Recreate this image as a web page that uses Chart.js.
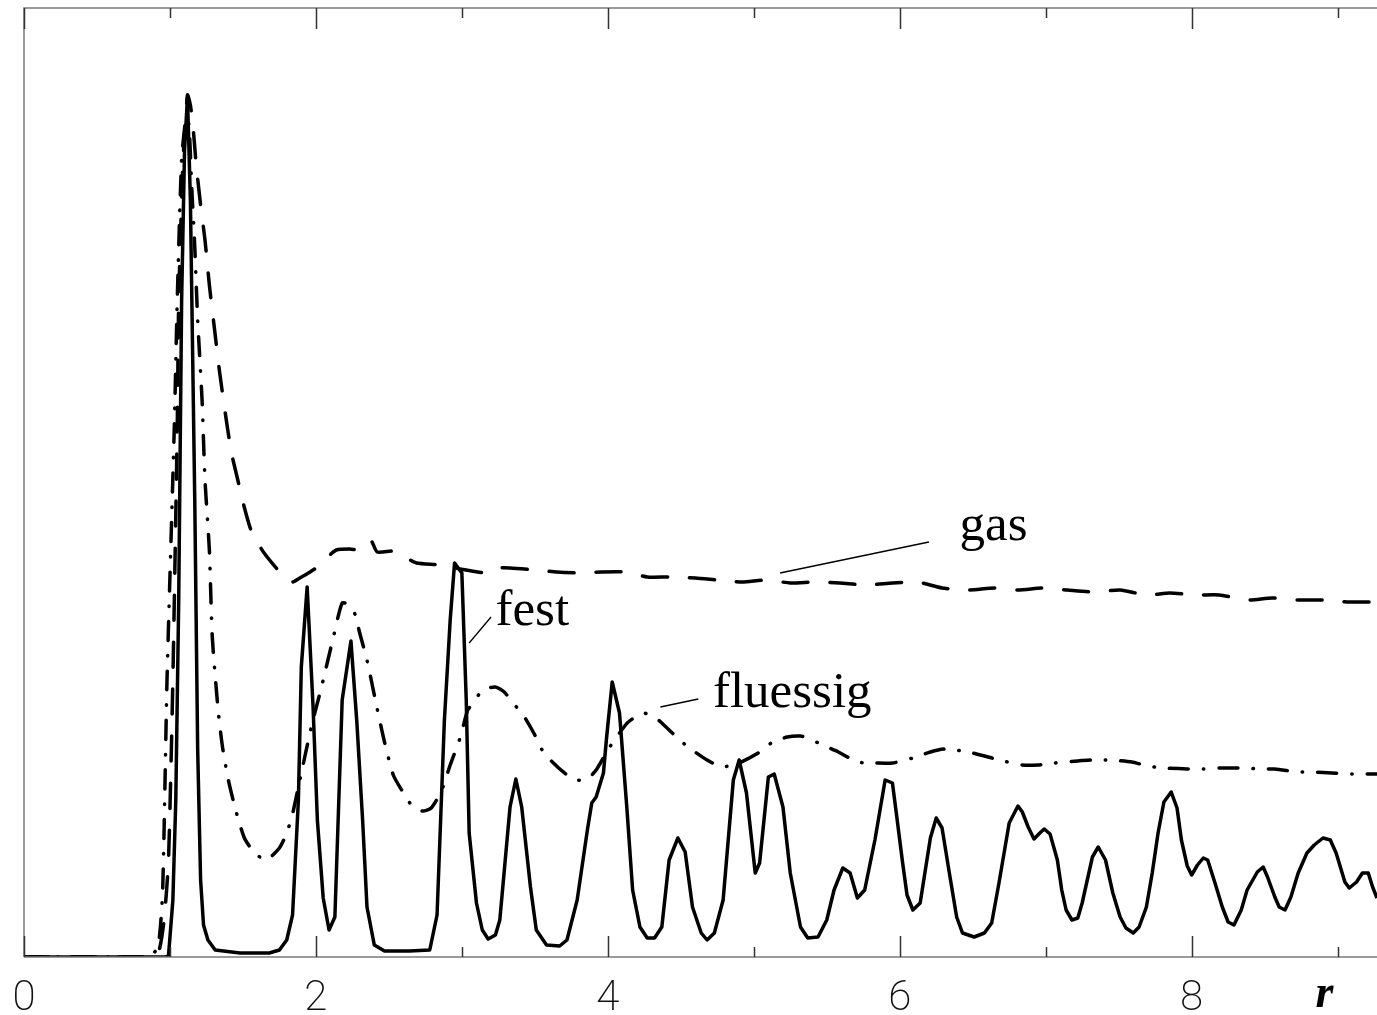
<!DOCTYPE html>
<html lang="de">
<head>
    <meta charset="UTF-8">
    <title>Paarverteilungsfunktion g(r)</title>
    <script src="https://cdn.jsdelivr.net/npm/chart.js"></script>
    <style>
        html, body {
            margin: 0;
            padding: 0;
            background: #fff;
        }

        .chart-container {
            position: relative;
            width: 1377px;
            height: 1015px;
        }
    </style>
</head>
<body>

    <div class="chart-container">
        <canvas id="rdfChart"></canvas>
    </div>

    <script>
        // Abstand r und g(r) fuer fest (durchgezogen)
        const festR = [
            0, 0.97, 0.99, 1.02, 1.04, 1.06, 1.08, 1.10, 1.12, 1.14,
            1.15, 1.17, 1.19, 1.21, 1.23, 1.26, 1.31, 1.48, 1.68, 1.75,
            1.80, 1.84, 1.88, 1.90, 1.94, 1.98, 2.01, 2.05, 2.09, 2.13,
            2.18, 2.24, 2.28, 2.32, 2.35, 2.40, 2.47, 2.64, 2.78, 2.83,
            2.88, 2.92, 2.95, 3.00, 3.03, 3.05, 3.10, 3.14, 3.18, 3.23,
            3.26, 3.33, 3.37, 3.41, 3.47, 3.51, 3.58, 3.67, 3.72, 3.79,
            3.86, 3.89, 3.92, 3.97, 3.99, 4.03, 4.08, 4.13, 4.17, 4.22,
            4.27, 4.32, 4.37, 4.42, 4.48, 4.53, 4.58, 4.64, 4.68, 4.73,
            4.79, 4.86, 4.90, 4.95, 5.01, 5.04, 5.10, 5.14, 5.20, 5.25,
            5.32, 5.37, 5.44, 5.50, 5.55, 5.61, 5.66, 5.71, 5.76, 5.83,
            5.90, 5.95, 5.98, 6.02, 6.05, 6.09, 6.14, 6.21, 6.25, 6.29,
            6.34, 6.39, 6.43, 6.51, 6.58, 6.63, 6.68, 6.75, 6.81, 6.84,
            6.88, 6.92, 6.96, 6.99, 7.03, 7.08, 7.11, 7.14, 7.18, 7.22,
            7.25, 7.32, 7.36, 7.41, 7.46, 7.51, 7.55, 7.60, 7.64, 7.69,
            7.73, 7.77, 7.81, 7.86, 7.90, 7.93, 7.97, 8.00, 8.04, 8.08,
            8.11, 8.16, 8.21, 8.25, 8.29, 8.34, 8.38, 8.45, 8.49, 8.52,
            8.57, 8.60, 8.64, 8.68, 8.73, 8.79, 8.84, 8.90, 8.95, 8.99,
            9.05, 9.08, 9.13, 9.17, 9.21, 9.24, 9.27
        ];
        const festG = [
            0, 0, 0.01, 0.57, 1.57, 3.57, 6.57, 8.07, 8.60, 7.57,
            6.57, 4.57, 2.07, 0.77, 0.32, 0.17, 0.07, 0.04, 0.04, 0.07,
            0.17, 0.42, 1.57, 2.90, 3.70, 2.52, 1.37, 0.59, 0.27, 0.40,
            2.57, 3.16, 2.36, 1.37, 0.50, 0.12, 0.06, 0.06, 0.07, 0.42,
            2.36, 3.37, 3.94, 3.84, 2.57, 1.24, 0.54, 0.27, 0.18, 0.22,
            0.37, 1.50, 1.78, 1.50, 0.70, 0.27, 0.12, 0.11, 0.17, 0.57,
            1.27, 1.54, 1.60, 1.84, 2.17, 2.75, 2.44, 1.50, 0.67, 0.30,
            0.19, 0.19, 0.30, 0.97, 1.19, 1.05, 0.50, 0.24, 0.17, 0.24,
            0.57, 1.77, 1.97, 1.64, 0.84, 0.94, 1.80, 1.83, 1.50, 0.84,
            0.30, 0.19, 0.20, 0.37, 0.67, 0.89, 0.84, 0.59, 0.67, 1.17,
            1.77, 1.74, 1.40, 0.94, 0.62, 0.47, 0.54, 1.19, 1.39, 1.29,
            0.84, 0.40, 0.24, 0.20, 0.24, 0.34, 0.74, 1.34, 1.51, 1.45,
            1.30, 1.18, 1.24, 1.28, 1.23, 0.97, 0.67, 0.47, 0.37, 0.39,
            0.54, 1.00, 1.10, 0.97, 0.64, 0.40, 0.29, 0.24, 0.30, 0.50,
            0.84, 1.24, 1.55, 1.65, 1.49, 1.17, 0.91, 0.82, 0.92, 0.99,
            0.97, 0.74, 0.50, 0.35, 0.32, 0.47, 0.67, 0.85, 0.90, 0.80,
            0.60, 0.50, 0.47, 0.60, 0.84, 1.04, 1.12, 1.19, 1.17, 1.04,
            0.75, 0.69, 0.75, 0.84, 0.84, 0.70, 0.59
        ];

        // fluessig (strich-punkt)
        const fluessigR = [
            0, 0.86, 0.92, 0.95, 0.98, 1.03, 1.05, 1.08, 1.11, 1.13,
            1.15, 1.17, 1.19, 1.22, 1.24, 1.27, 1.29, 1.33, 1.36, 1.40,
            1.45, 1.51, 1.58, 1.66, 1.75, 1.80, 1.84, 1.89, 1.97, 2.04,
            2.12, 2.18, 2.23, 2.27, 2.30, 2.35, 2.42, 2.47, 2.53, 2.60,
            2.66, 2.73, 2.79, 2.86, 2.92, 2.99, 3.04, 3.08, 3.14, 3.23,
            3.29, 3.35, 3.42, 3.50, 3.55, 3.62, 3.72, 3.79, 3.86, 3.92,
            4.00, 4.08, 4.14, 4.24, 4.32, 4.37, 4.47, 4.55, 4.68, 4.78,
            4.90, 5.03, 5.12, 5.23, 5.32, 5.37, 5.47, 5.58, 5.71, 5.83,
            5.95, 6.09, 6.21, 6.31, 6.47, 6.58, 6.68, 6.84, 6.95, 7.06,
            7.22, 7.32, 7.44, 7.59, 7.70, 7.80, 7.97, 8.08, 8.19, 8.35,
            8.47, 8.57, 8.73, 8.84, 8.96, 9.10, 9.27
        ];
        const fluessigG = [
            0, 0, 0.12, 0.67, 2.78, 5.31, 6.57, 7.97, 8.39, 8.32,
            7.67, 7.10, 6.37, 5.57, 4.77, 4.07, 3.20, 2.47, 2.10, 1.77,
            1.47, 1.19, 1.04, 0.97, 1.09, 1.24, 1.43, 1.77, 2.31, 2.71,
            3.20, 3.54, 3.52, 3.42, 3.24, 2.97, 2.48, 2.15, 1.82, 1.64,
            1.51, 1.46, 1.49, 1.66, 1.92, 2.20, 2.47, 2.54, 2.67, 2.70,
            2.65, 2.54, 2.42, 2.22, 2.07, 1.95, 1.82, 1.77, 1.78, 1.87,
            2.07, 2.24, 2.35, 2.44, 2.40, 2.34, 2.20, 2.10, 1.97, 1.90,
            1.94, 2.04, 2.14, 2.20, 2.21, 2.19, 2.12, 2.05, 1.95, 1.94,
            1.94, 1.99, 2.05, 2.08, 2.05, 2.01, 1.97, 1.92, 1.92, 1.94,
            1.96, 1.97, 1.97, 1.95, 1.91, 1.89, 1.88, 1.88, 1.89, 1.89,
            1.88, 1.88, 1.85, 1.85, 1.84, 1.83, 1.83
        ];

        // gas (gestrichelt)
        const gasR = [
            0, 0.90, 0.93, 0.96, 0.99, 1.02, 1.05, 1.06, 1.09, 1.12,
            1.14, 1.16, 1.18, 1.21, 1.24, 1.27, 1.31, 1.34, 1.39, 1.42,
            1.46, 1.50, 1.55, 1.59, 1.64, 1.74, 1.80, 1.84, 1.89, 1.96,
            2.01, 2.08, 2.14, 2.23, 2.30, 2.35, 2.38, 2.42, 2.54, 2.61,
            2.69, 2.85, 3.03, 3.18, 3.26, 3.33, 3.51, 3.65, 3.81, 3.95,
            4.12, 4.27, 4.42, 4.60, 4.75, 4.92, 5.09, 5.25, 5.42, 5.59,
            5.77, 5.95, 6.12, 6.29, 6.47, 6.65, 6.81, 6.99, 7.15, 7.34,
            7.51, 7.69, 7.85, 8.03, 8.19, 8.38, 8.55, 8.73, 8.90, 9.08,
            9.27
        ];
        const gasG = [
            0, 0, 0.09, 0.37, 0.97, 2.78, 5.31, 6.57, 7.97, 8.62,
            8.52, 8.27, 7.92, 7.52, 7.17, 6.72, 6.22, 5.85, 5.33, 5.05,
            4.80, 4.55, 4.29, 4.17, 4.05, 3.87, 3.79, 3.75, 3.79, 3.85,
            3.90, 4.00, 4.07, 4.08, 4.07, 4.12, 4.16, 4.05, 4.06, 4.00,
            3.94, 3.92, 3.87, 3.84, 3.89, 3.89, 3.87, 3.85, 3.84, 3.85,
            3.85, 3.80, 3.80, 3.79, 3.77, 3.75, 3.77, 3.74, 3.75, 3.74,
            3.72, 3.74, 3.75, 3.69, 3.67, 3.69, 3.67, 3.69, 3.67, 3.65,
            3.67, 3.62, 3.64, 3.62, 3.62, 3.57, 3.59, 3.57, 3.57, 3.55,
            3.55
        ];

        // Achsenbeschriftung
        const xTickValues = [0, 2, 4, 6, 8];
        const xTickLabels = ['0', '2', '4', '6', '8'];
        const xMin = 0;
        const xMax = 9.27;
        const yMax = 9.49;

        // Beschriftungen mit Hinweislinien (Datenkoordinaten)
        const labels = [
            { text: 'gas', x: 6.41, y: 4.17, from: [5.18, 3.84], to: [6.20, 4.15] },
            { text: 'fest', x: 3.23, y: 3.32, from: [3.05, 3.14], to: [3.20, 3.40] },
            { text: 'fluessig', x: 4.72, y: 2.50, from: [4.36, 2.50], to: [4.62, 2.58] }
        ];

        function toPoints(xs, ys) {
            return xs.map((x, i) => ({ x: x, y: ys[i] }));
        }

        // Rahmen, Teilstriche, r und Beschriftungen
        const decorPlugin = {
            id: 'decor',
            afterDatasetsDraw(chart) {
                const ctx = chart.ctx;
                const area = chart.chartArea;
                const xs = chart.scales.x;
                const ys = chart.scales.y;
                ctx.save();

                // Rahmen
                ctx.strokeStyle = '#7a7a7a';
                ctx.lineWidth = 1.5;
                ctx.beginPath();
                ctx.moveTo(area.left, area.bottom);
                ctx.lineTo(area.left, area.top);
                ctx.lineTo(area.right + 2, area.top);
                ctx.moveTo(area.left, area.bottom);
                ctx.lineTo(area.right + 2, area.bottom);
                ctx.stroke();

                // Teilstriche oben und unten
                ctx.strokeStyle = '#333';
                ctx.lineWidth = 1.5;
                for (let v = 0; v <= 9; v++) {
                    const px = Math.round(xs.getPixelForValue(v)) + 0.5;
                    const len = v % 2 === 0 ? 21 : 10;
                    ctx.beginPath();
                    ctx.moveTo(px, area.top);
                    ctx.lineTo(px, area.top + len);
                    ctx.moveTo(px, area.bottom);
                    ctx.lineTo(px, area.bottom - len);
                    ctx.stroke();
                }

                // Achsentitel r
                ctx.fillStyle = '#000';
                ctx.font = 'italic bold 46px "Liberation Serif", "Times New Roman", serif';
                ctx.textAlign = 'center';
                ctx.textBaseline = 'alphabetic';
                ctx.fillText('r', xs.getPixelForValue(8.91), area.bottom + 50);

                // Kurvenbeschriftungen
                ctx.font = '51px "Liberation Serif", "Times New Roman", serif';
                ctx.textAlign = 'left';
                ctx.lineWidth = 1.3;
                ctx.strokeStyle = '#000';
                labels.forEach(l => {
                    ctx.fillText(l.text, xs.getPixelForValue(l.x), ys.getPixelForValue(l.y));
                    ctx.beginPath();
                    ctx.moveTo(xs.getPixelForValue(l.from[0]), ys.getPixelForValue(l.from[1]));
                    ctx.lineTo(xs.getPixelForValue(l.to[0]), ys.getPixelForValue(l.to[1]));
                    ctx.stroke();
                });

                ctx.restore();
            }
        };

        const ctx = document.getElementById('rdfChart').getContext('2d');
        const rdfChart = new Chart(ctx, {
            type: 'line',
            data: {
                datasets: [
                    {
                        label: 'gas',
                        data: toPoints(gasR, gasG),
                        borderColor: '#000',
                        borderWidth: 3.5,
                        borderDash: [25, 22],
                        borderCapStyle: 'round',
                        borderJoinStyle: 'round',
                        pointRadius: 0,
                        tension: 0.2
                    },
                    {
                        label: 'fluessig',
                        data: toPoints(fluessigR, fluessigG),
                        borderColor: '#000',
                        borderWidth: 3.5,
                        borderDash: [19, 15, 0.5, 15],
                        borderCapStyle: 'round',
                        borderJoinStyle: 'round',
                        pointRadius: 0,
                        tension: 0.2
                    },
                    {
                        label: 'fest',
                        data: toPoints(festR, festG),
                        borderColor: '#000',
                        borderWidth: 3.5,
                        borderJoinStyle: 'round',
                        pointRadius: 0,
                        tension: 0
                    }
                ]
            },
            options: {
                responsive: true,
                maintainAspectRatio: false,
                animation: false,
                layout: {
                    padding: { left: 24, top: 8, right: 0, bottom: 0 }
                },
                plugins: {
                    legend: { display: false },
                    tooltip: { enabled: false }
                },
                scales: {
                    x: {
                        type: 'linear',
                        min: xMin,
                        max: xMax,
                        grid: { display: false, drawTicks: false },
                        border: { display: false },
                        afterFit: function(scale) {
                            // Platz unter der Achse fest, keine Zusatzraender
                            scale.height = 58;
                            scale.paddingLeft = 0;
                            scale.paddingRight = 0;
                        },
                        ticks: {
                            stepSize: 1,
                            includeBounds: false,
                            autoSkip: false,
                            maxRotation: 0,
                            padding: 17,
                            color: '#111',
                            font: { family: 'Roboto', weight: 200, size: 42 },
                            callback: function(value) {
                                const i = xTickValues.indexOf(value);
                                return i >= 0 ? xTickLabels[i] : '';
                            }
                        }
                    },
                    y: {
                        display: false,
                        min: 0,
                        max: yMax
                    }
                }
            },
            plugins: [decorPlugin]
        });
    </script>

</body>
</html>
